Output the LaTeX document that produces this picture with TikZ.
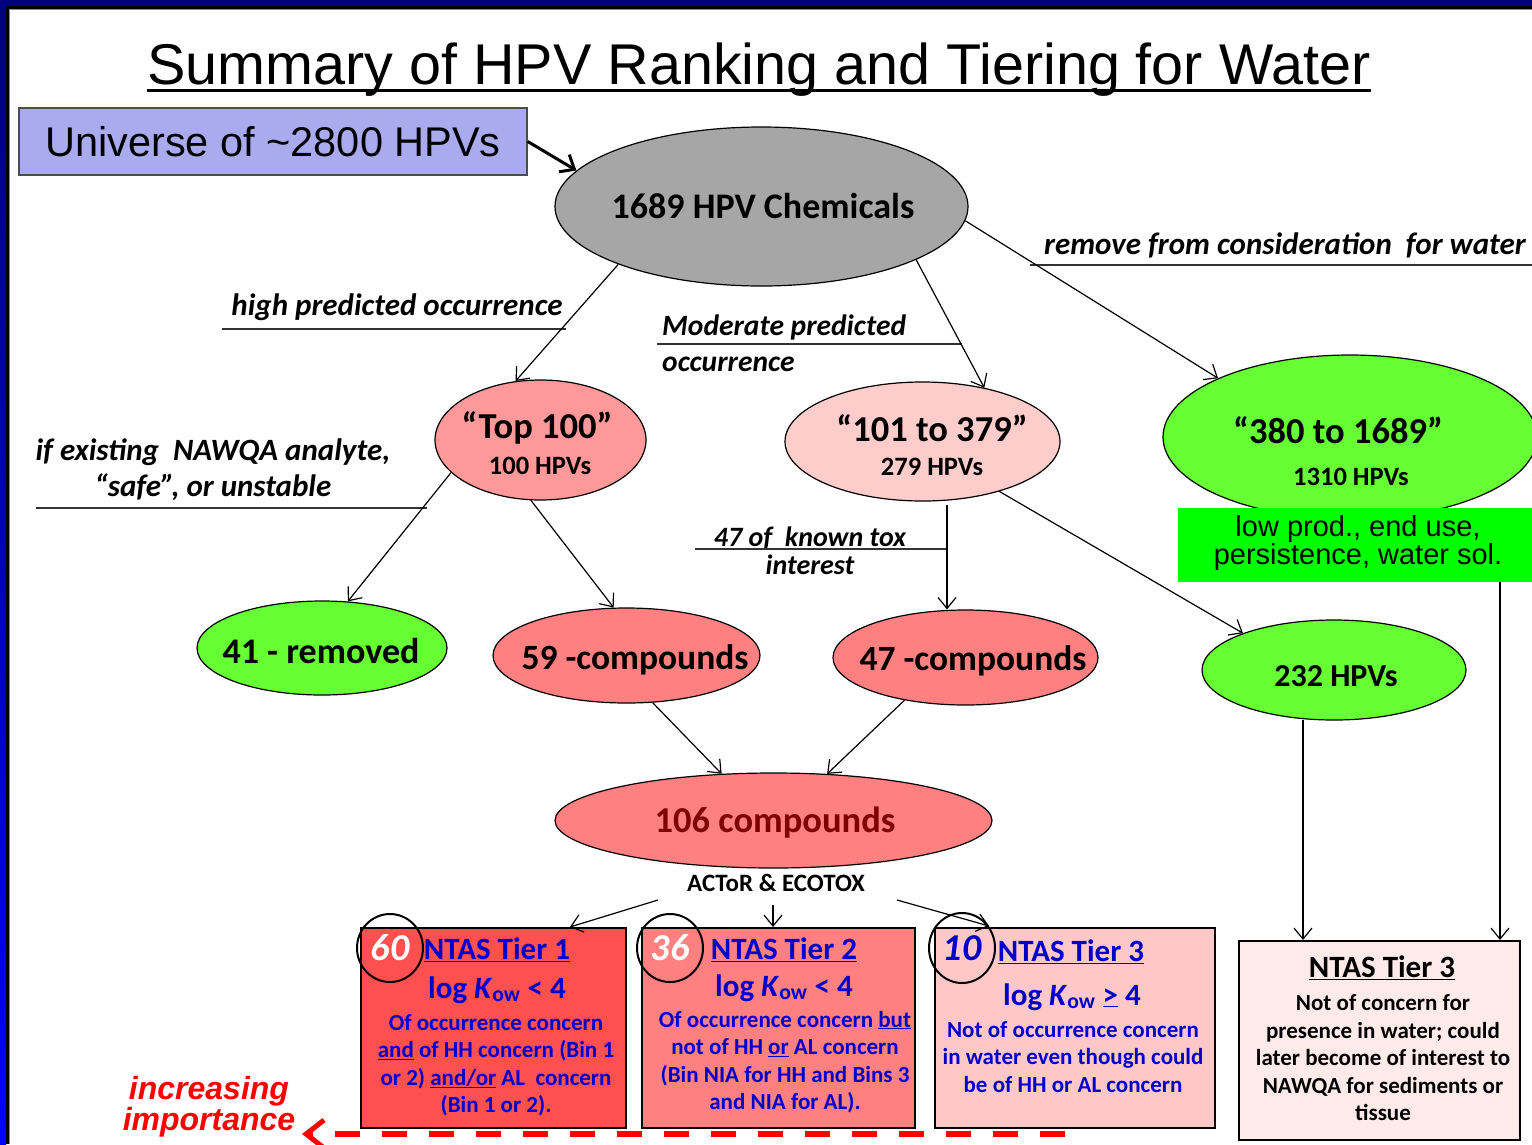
\documentclass[tikz,border=0pt]{standalone}
\usepackage{fontspec}
\setmainfont{Carlito}
\newfontfamily\arialf{Liberation Sans}
\usetikzlibrary{shapes.geometric,arrows.meta,calc}
\definecolor{navyb}{HTML}{000080}
\definecolor{blueb}{HTML}{0000FF}
\definecolor{grayE}{HTML}{A6A6A6}
\definecolor{pinkA}{HTML}{FF9999}
\definecolor{pinkB}{HTML}{FFCCCC}
\definecolor{greenA}{HTML}{66FF33}
\definecolor{greenB}{HTML}{00FF00}
\definecolor{salmon}{HTML}{FF8080}
\definecolor{redT}{HTML}{FF5050}
\definecolor{pinkT}{HTML}{FFC8C8}
\definecolor{pinkR}{HTML}{FFEAEA}
\definecolor{lav}{HTML}{AAAAEE}
\definecolor{darkred}{HTML}{800000}
\definecolor{txtblue}{HTML}{0000CC}
\begin{document}
\begin{tikzpicture}[x=1pt,y=-1pt,
  ell/.style={ellipse, draw=black, line width=1.2pt, inner sep=0pt},
  etext/.style={font=\bfseries\fontsize{#1}{#1}\selectfont, inner sep=0pt},
  arr/.style={draw=black, line width=1.2pt, -{Straight Barb[length=11pt,width=18pt]}},
  uline/.style={draw=black!80, line width=1.5pt},
  lbl/.style={font=\bfseries\itshape\fontsize{31}{36}\selectfont, inner sep=0pt},
  tbox/.style={rectangle, draw=black, line width=1.5pt, inner sep=0pt, anchor=north west},
  ring/.style={ellipse, draw=black, line width=2pt, minimum width=66, minimum height=68, inner sep=0pt, font=\bfseries\itshape\fontsize{38}{40}\selectfont},
  hdr/.style={font=\bfseries\fontsize{31}{34}\selectfont, inner sep=0pt},
  kow/.style={font=\bfseries\fontsize{31}{34}\selectfont, inner sep=0pt},
  body/.style={font=\bfseries\fontsize{23}{27.5}\selectfont, inner sep=0pt, align=center}
]
\useasboundingbox (0,0) rectangle (1532,1144);
\clip (0,0) rectangle (1532,1144);
\fill[white] (0,0) rectangle (1532,1144);
% frame
\fill[navyb] (0,0) rectangle (1532,6);
\shade[top color=navyb, bottom color=blueb] (0,6) rectangle (6,1144);
\fill[black] (6,6) rectangle (1532,9);
\fill[black] (6,6) rectangle (9,1144);
\draw[black!45, line width=1pt] (9.5,1144) -- (9.5,9.5) -- (1532,9.5);

% title
\node[font=\arialf\fontsize{57.5}{60}\selectfont, inner sep=0pt, anchor=base] (title) at (759,84) {Summary of HPV Ranking and Tiering for Water};
\draw[line width=3pt] ($(title.base west)+(0,6)$) -- ($(title.base east)+(0,6)$);

% universe box
\node[draw=black!70, line width=1.5pt, fill=lav, minimum width=508, minimum height=67, inner sep=0pt, font=\arialf\fontsize{41.5}{44}\selectfont] (univ) at (273,141.5) {Universe of \textasciitilde2800 HPVs};

% ellipses
\node[ell, fill=grayE, minimum width=413, minimum height=159] (c1689) at (761.5,206.5) {};
\node[etext=36] (t1689) at (763,206) {1689 HPV Chemicals};

\node[ell, fill=pinkA, minimum width=211, minimum height=120] (top) at (540.5,440) {};
\node[etext=36.5] (ttop1) at (537,428) {“Top 100”};
\node[etext=26.5] (ttop2) at (540,466) {100 HPVs};

\node[ell, fill=pinkB, minimum width=275, minimum height=119] (n101) at (922.5,441.5) {};
\node[etext=36.5] (t101a) at (932,428) {“101 to 379”};
\node[etext=26.5] (t101b) at (932,467) {279 HPVs};

\node[ell, fill=greenA, minimum width=374, minimum height=164] (n380) at (1350,437) {};
\node[etext=36.5] (t380a) at (1338,430) {“380 to 1689”};
\node[etext=26.5] (t380b) at (1351,477) {1310 HPVs};

\node[fill=greenB, minimum width=360, minimum height=74, inner sep=0pt, anchor=north west] (gbox) at (1178,508) {};
\node[font=\arialf\fontsize{29}{28}\selectfont, align=center, inner sep=0pt] (gtext) at (1358,543) {low prod., end use,\\persistence, water sol.};

\node[ell, fill=greenA, minimum width=250, minimum height=94] (n41) at (322,648) {};
\node[etext=36] (t41) at (321,651) {41 - removed};

\node[ell, fill=salmon, minimum width=267, minimum height=95] (n59) at (626.5,655.5) {};
\node[etext=35.5] (t59) at (635,660) {59 -compounds};

\node[ell, fill=salmon, minimum width=265, minimum height=95] (n47) at (965.5,657.5) {};
\node[etext=35.5] (t47) at (973,661) {47 -compounds};

\node[ell, fill=greenA, minimum width=264, minimum height=100] (n232) at (1334,670) {};
\node[etext=32] (t232) at (1336,676) {232 HPVs};

\node[ell, fill=salmon, minimum width=437, minimum height=95] (n106) at (773.5,820.5) {};
\node[etext=36.5, text=darkred] (t106) at (775,823) {106 compounds};

\node[font=\bfseries\fontsize{25}{27}\selectfont, inner sep=0pt] (actor) at (776,883) {ACToR \& ECOTOX};

% labels with lines
\node[lbl] (lhigh) at (397,307) {high predicted occurrence};
\draw[uline] (222,329) -- (566,329);
\node[lbl, anchor=west, font=\bfseries\itshape\fontsize{29.5}{34}\selectfont] (lmod1) at (662,327) {Moderate predicted};
\node[lbl, anchor=west, font=\bfseries\itshape\fontsize{29.5}{34}\selectfont] (lmod2) at (662,364) {occurrence};
\draw[uline] (657,344) -- (962,344);
\node[lbl] (lrem) at (1285,245) {remove from consideration\ \ for water};
\draw[uline] (1030,265) -- (1532,265);
\node[lbl, align=center] (lnaw) at (213,470) {if existing\ \ NAWQA analyte,\\“safe”, or unstable};
\draw[uline] (36,508) -- (427,508);
\node[lbl, align=center, font=\bfseries\itshape\fontsize{28}{28}\selectfont] (ltox) at (810,551) {47 of\ \ known tox\\interest};
\draw[uline] (695,549) -- (947,549);

% tier boxes
\node[tbox, fill=redT, minimum width=265, minimum height=200] (t1) at (360,927) {};
\node[tbox, fill=salmon, minimum width=273, minimum height=200] (t2) at (641,927) {};
\node[tbox, fill=pinkT, minimum width=280, minimum height=200] (t3) at (934,927) {};
\node[tbox, fill=pinkR, minimum width=281, minimum height=199] (t4) at (1238,940) {};

\node[ring] (r60) at (390,948) {\textcolor{white}{60}};
\node[hdr, text=txtblue] (h1) at (497,950) {\underline{NTAS Tier 1}};
\node[kow, text=txtblue] (k1) at (497,990) {log \textit{K}\textsubscript{ow} < 4};
\node[body, text=txtblue] (b1) at (496,1065) {Of occurrence concern\\\underline{and} of HH concern (Bin 1\\or 2) \underline{and/or} AL\ \ concern\\(Bin 1 or 2).};

\node[ring] (r36) at (670,948) {\textcolor{white}{36}};
\node[hdr, text=txtblue] (h2) at (784,950) {\underline{NTAS Tier 2}};
\node[kow, text=txtblue] (k2) at (784,988) {log \textit{K}\textsubscript{ow} < 4};
\node[body, text=txtblue] (b2) at (785,1062) {Of occurrence concern \underline{but}\\not of HH \underline{or} AL concern\\(Bin NIA for HH and Bins 3\\and NIA for AL).};

\node[ring, minimum height=70] (r10) at (962,948) {\textcolor{txtblue}{10}};
\node[hdr, text=txtblue] (h3) at (1071,952) {\underline{NTAS Tier 3}};
\node[kow, text=txtblue] (k3) at (1072,997) {log \textit{K}\textsubscript{ow} \underline{>} 4};
\node[body, text=txtblue] (b3) at (1073,1057) {Not of occurrence concern\\in water even though could\\be of HH or AL concern};

\node[hdr] (h4) at (1382,968) {\underline{NTAS Tier 3}};
\node[body] (b4) at (1383,1058) {Not of concern for\\presence in water; could\\later become of interest to\\NAWQA for sediments or\\tissue};

% connectors
\draw[line width=3pt, -{Straight Barb[length=12pt,width=20pt]}] (univ.east) -- (c1689.169);
\draw[arr] (c1689.202.7) -- (top.113);
\draw[arr] (c1689.341) -- (n101.41);
\draw[arr] (c1689.-4.5) -- (n380.156);
\draw[arr] (top.200.6) -- (n41.61.6);
\draw[arr] (top.261) -- (n59.105);
\coordinate (s101) at ($(n101.center)+(24.5,63.5)$);
\draw[arr] (s101) -- (s101 |- n47.north);
\draw[arr] (n101.327) -- (n232.158);
\draw[arr] (n59.299) -- (n106.138);
\draw[arr] (n47.215) -- (n106.41);
\draw[arr] ($(actor.center)+(-118,17)$) -- ($(t1.north west)+(210,0)$);
\draw[arr] ($(actor.center)+(-3,22)$) -- ($(t2.north west)+(132,0)$);
\draw[arr] ($(actor.center)+(121,17)$) -- ($(t3.north west)+(55,-1)$);
\coordinate (s232) at ($(n232.center)+(-31,50)$);
\draw[arr] (s232) -- (s232 |- t4.north);
\coordinate (sg) at ($(gbox.south west)+(322,0)$);
\draw[arr] (sg) -- (sg |- t4.north);

% increasing importance
\node[font=\arialf\bfseries\itshape\fontsize{32}{31}\selectfont, text=red, align=center, inner sep=0pt] (imp) at (209,1107) {increasing\\importance};
\coordinate (dashR) at (1065,1134);
\coordinate (dashL) at (302,1134);
\draw[red, line width=6pt, dash pattern=on 25pt off 22pt, -{Straight Barb[length=18pt,width=28pt,line width=5pt]}] (dashR) -- (dashL);
\end{tikzpicture}
\end{document}
